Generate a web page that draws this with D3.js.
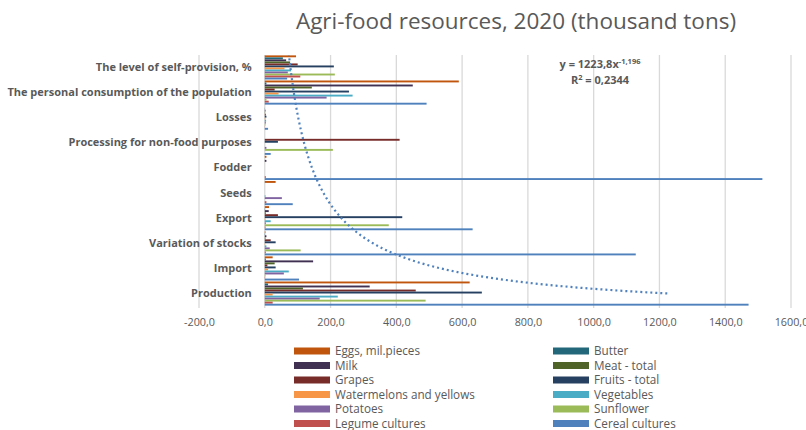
<!DOCTYPE html>
<html>
<head>
<meta charset="utf-8">
<script src="https://cdn.jsdelivr.net/npm/d3@7"></script>
<style>
  body { margin: 0; background: #fff; }
  text { font-family: "Open Sans", "Liberation Sans", sans-serif; fill: #595959; }
</style>
</head>
<body>
<div id="chart"></div>
<script>
// categories, top to bottom as drawn
var categories = ["The level of self-provision, %", "The personal consumption of the population",
  "Losses", "Processing for non-food purposes", "Fodder", "Seeds", "Export",
  "Variation of stocks", "Import", "Production"];

var seriesNames = ["Eggs, mil.pieces", "Butter", "Milk", "Meat - total", "Grapes", "Fruits - total",
  "Watermelons and yellows", "Vegetables", "Potatoes", "Sunflower", "Legume cultures", "Cereal cultures"];

var seriesColors = ["#c0560e", "#22687a", "#403152", "#4f6228", "#772c2a", "#254061",
  "#f79646", "#4bacc6", "#8064a2", "#9bbb59", "#c0504d", "#4f81bd"];

// values per series, in the order of categories above
var eggs        = [95, 590, 0, 0, 5, 33, 13, 2, 24, 623];
var butter      = [55, 5, 0.5, 0, 0, 0, 1, 1, 3, 10];
var milk        = [65, 450, 2, 0, 5, 0, 12, 5, 147, 319];
var meat        = [77, 143, 1, 0, 0, 0, 3, 2, 30, 116];
var grapes      = [100, 30, 3, 410, 0, 0, 40, 18, 8, 459];
var fruits      = [210, 256, 5, 40, 0, 0, 418, 33, 33, 660];
var watermelons = [60, 42, 2, 0, 0, 0, 2, 1, 10, 24];
var vegetables  = [80, 267, 4, 0, 0, 2, 18, 5, 73, 222];
var potatoes    = [70, 188, 3, 5, 0, 52, 3, 15, 58, 167];
var sunflower   = [213, 5, 2, 207, 0, 0, 377, 109, 2, 489];
var legume      = [108, 12, 0.5, 0, 3, 5, 2, 3, 1, 24];
var cereal      = [68, 492, 10, 18, 1513, 85, 632, 1128, 104, 1471];

var xTicks = [-200, 0, 200, 400, 600, 800, 1000, 1200, 1400, 1600];

// power trendline shown on the chart: y = 1223,8 x^-1,196
var trendA = 1223.8, trendB = -1.196;

var allSeries = [eggs, butter, milk, meat, grapes, fruits, watermelons, vegetables, potatoes, sunflower, legume, cereal];

var W = 806, H = 430;
var plot = {left: 199, right: 791, top: 55, bottom: 306};

var svg = d3.select("#chart").append("svg")
  .attr("width", W).attr("height", H);

var x = d3.scaleLinear().domain([-200, 1600]).range([plot.left, plot.right]);
var y = d3.scaleBand().domain(categories).range([plot.top, plot.bottom]).paddingInner(0.03).paddingOuter(0.01);
var ys = d3.scaleBand().domain(d3.range(seriesNames.length)).range([0, y.bandwidth()]).padding(0.06);

// title
svg.append("text")
  .attr("x", 516).attr("y", 29)
  .attr("text-anchor", "middle")
  .style("font-size", "22.5px")
  .text("Agri-food resources, 2020 (thousand tons)");

// gridlines
svg.append("g").selectAll("line")
  .data(xTicks)
  .enter().append("line")
    .attr("x1", function(d) { return x(d); })
    .attr("x2", function(d) { return x(d); })
    .attr("y1", plot.top).attr("y2", plot.bottom + 2)
    .attr("stroke", "#d9d9d9").attr("stroke-width", 1.3);

// x axis labels
var xAxis = svg.append("g")
  .attr("transform", "translate(0," + (plot.bottom + 4) + ")")
  .call(d3.axisBottom(x).tickValues(xTicks).tickSize(0).tickPadding(8)
    .tickFormat(function(d) { return d3.format(".1f")(d).replace(".", ",").replace("\u2212", "-"); }));
xAxis.select(".domain").remove();
xAxis.selectAll("text").style("font-size", "10.8px").attr("fill", "#595959");

// category labels
var yAxis = svg.append("g")
  .attr("transform", "translate(" + (x(0) - 9) + ",0)")
  .call(d3.axisLeft(y).tickSize(0).tickPadding(4));
yAxis.select(".domain").remove();
yAxis.selectAll("text").style("font-size", "11px").style("font-weight", "bold").attr("fill", "#595959");

// bars
var groups = svg.append("g").selectAll("g")
  .data(allSeries)
  .enter().append("g")
    .attr("fill", function(d, i) { return seriesColors[i]; });

groups.each(function(vals, si) {
  d3.select(this).selectAll("rect")
    .data(vals)
    .enter().append("rect")
      .attr("x", function(d) { return x(Math.min(0, d)); })
      .attr("y", function(d, ci) { return y(categories[ci]) + ys(si); })
      .attr("width", function(d) { return Math.abs(x(d) - x(0)); })
      .attr("height", ys.bandwidth());
});

// trendline: category index 1 = Production (bottom)
var idx = d3.scaleLinear().domain([0.5, categories.length + 0.5]).range([plot.bottom, plot.top]);
var tPts = d3.range(1, categories.length + 0.5001, 0.05);
svg.append("path")
  .datum(tPts)
  .attr("fill", "none")
  .attr("stroke", "#4f81bd")
  .attr("stroke-width", 2.2)
  .attr("stroke-dasharray", "2,3")
  .attr("d", d3.line()
    .x(function(i) { return x(trendA * Math.pow(i, trendB)); })
    .y(function(i) { return idx(i); }));

// trendline equation
var eq = svg.append("text")
  .attr("x", 600).attr("y", 68)
  .attr("text-anchor", "middle")
  .style("font-size", "11px").style("font-weight", "bold").attr("fill", "#404040");
eq.append("tspan").text("y = 1223,8x");
eq.append("tspan").attr("dy", -4).style("font-size", "7.5px").text("-1,196");

var r2 = svg.append("text")
  .attr("x", 600).attr("y", 84)
  .attr("text-anchor", "middle")
  .style("font-size", "11px").style("font-weight", "bold").attr("fill", "#404040");
r2.append("tspan").text("R");
r2.append("tspan").attr("dy", -4).style("font-size", "7.5px").text("2");
r2.append("tspan").attr("dy", 4).text(" = 0,2344");

// legend: two columns, row-wise
var legend = svg.append("g").selectAll("g")
  .data(seriesNames)
  .enter().append("g")
    .attr("transform", function(d, i) {
      var col = i % 2, row = Math.floor(i / 2);
      return "translate(" + (col === 0 ? 294 : 553) + "," + (351 + row * 14.5) + ")";
    });
legend.append("rect")
  .attr("x", 0).attr("y", -3.5).attr("width", 36).attr("height", 7)
  .attr("fill", function(d, i) { return seriesColors[i]; });
legend.append("text")
  .attr("x", 41).attr("y", 4.2)
  .style("font-size", "11.7px").attr("fill", "#4d4d4d")
  .text(function(d) { return d; });
</script>
</body>
</html>
